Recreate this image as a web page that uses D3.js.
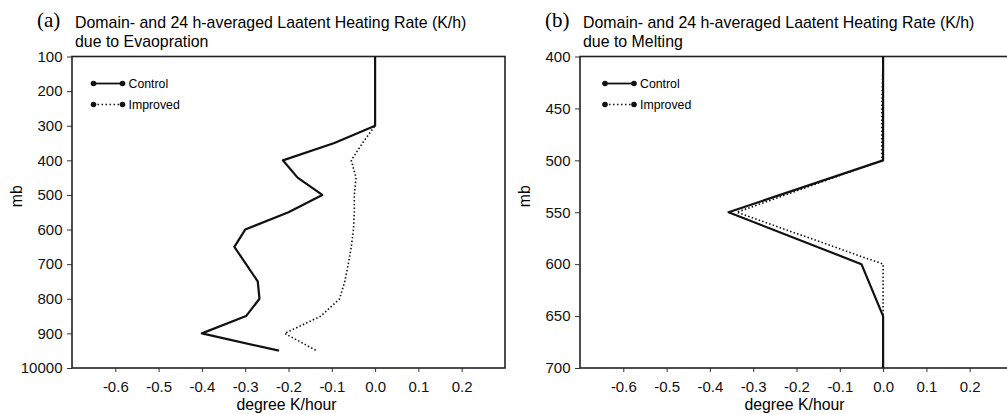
<!DOCTYPE html>
<html>
<head>
<meta charset="utf-8">
<script src="https://cdn.jsdelivr.net/npm/d3@7"></script>
<style>
  body { margin: 0; background: #fff; }
  svg { display: block; }
</style>
</head>
<body>
<svg width="1007" height="414"></svg>
<script>
// panel (a): evaporation
let levelsA = [100, 150, 200, 250, 300, 350, 400, 450, 500, 550, 600, 650, 700, 750, 800, 850, 900, 950];
let controlA = [0, 0, 0, 0, 0, -0.094, -0.213, -0.179, -0.122, -0.20, -0.30, -0.325, -0.298, -0.271, -0.267, -0.298, -0.40, -0.222];
let improvedA = [0, 0, 0, 0, 0, -0.029, -0.055, -0.044, -0.048, -0.048, -0.050, -0.055, -0.062, -0.070, -0.082, -0.125, -0.209, -0.135];
let yTicksA = [100, 200, 300, 400, 500, 600, 700, 800, 900, 1000];
let yLabelsA = ["100", "200", "300", "400", "500", "600", "700", "800", "900", "10000"];

// panel (b): melting
let levelsB = [400, 450, 500, 550, 600, 650, 700];
let controlB = [0, 0, 0, -0.357, -0.05, 0, 0];
let improvedB = [0, -0.003, -0.003, -0.338, 0, 0, 0];
let yTicksB = [400, 450, 500, 550, 600, 650, 700];

let xTicks = [-0.6, -0.5, -0.4, -0.3, -0.2, -0.1, 0.0, 0.1, 0.2];
let seriesNames = ["Control", "Improved"];

let font = "Liberation Sans, Arial, sans-serif";

class Panel {
	constructor(x, y, width, height, letter, title2){
		this.svg = d3.select("svg").append("g")
			.attr("transform", "translate(" + x + "," + y + ")");
		this.width = width;
		this.height = height;
		this.letter = letter;
		this.title2 = title2;
		this.x = d3.scaleLinear().domain([-0.7, 0.3]).range([0, width]);
	}

	setY(domain, ticks, labels){
		this.y = d3.scaleLinear().domain(domain).range([0, this.height]);
		this.yTicks = ticks;
		this.yLabels = labels;
	}

	draw(levels, control, improved, legendX){
		let g = this.svg, x = this.x, y = this.y, labels = this.yLabels, ticks = this.yTicks;

		// titles
		g.append("text").attr("x", -35).attr("y", -30)
			.attr("font-family", "Liberation Serif, serif").attr("font-size", 21)
			.text("(" + this.letter + ")");
		g.append("text").attr("x", 3).attr("y", -29)
			.attr("font-family", font).attr("font-size", 15.9)
			.text("Domain- and 24 h-averaged Laatent Heating Rate (K/h)");
		g.append("text").attr("x", 3).attr("y", -10)
			.attr("font-family", font).attr("font-size", 15.9)
			.text(this.title2);

		let xAxis = g.append("g").attr("transform", "translate(0," + this.height + ")")
			.call(d3.axisBottom(x).tickValues(xTicks)
				.tickFormat(function(d){ return d.toFixed(1); })
				.tickSize(4).tickSizeOuter(0));
		let yAxis = g.append("g")
			.call(d3.axisLeft(y).tickValues(ticks)
				.tickFormat(function(d, i){ return labels ? labels[i] : d; })
				.tickSize(5).tickSizeOuter(0));
		[xAxis, yAxis].forEach(function(a){
			a.select(".domain").remove();
			a.selectAll("line").attr("stroke", "#333").attr("stroke-width", 1);
			a.selectAll("text").attr("font-family", font)
				.attr("font-size", 15).attr("fill", "#111");
		});
		xAxis.selectAll("text").attr("dy", "1.15em");
		yAxis.selectAll("text").attr("dx", "-0.1em");

		g.append("rect").attr("width", this.width).attr("height", this.height)
			.attr("fill", "none").attr("stroke", "#222").attr("stroke-width", 1.6);

		g.append("text").attr("x", this.width / 2 - 2).attr("y", this.height + 42)
			.attr("text-anchor", "middle")
			.attr("font-family", font).attr("font-size", 15.8)
			.text("degree K/hour");
		g.append("text").attr("transform", "translate(" + (-50) + "," + (this.height / 2 - 16) + ") rotate(-90)")
			.attr("text-anchor", "middle")
			.attr("font-family", font).attr("font-size", 15.8)
			.text("mb");

		let line = d3.line().x(function(d){ return x(d[1]); }).y(function(d){ return y(d[0]); });

		g.append("path").datum(d3.zip(levels, improved))
			.attr("d", line).attr("fill", "none").attr("stroke", "#111")
			.attr("stroke-width", 1.6).attr("stroke-dasharray", "1.5,2.2");
		g.append("path").datum(d3.zip(levels, control))
			.attr("d", line).attr("fill", "none").attr("stroke", "#111")
			.attr("stroke-width", 2.2).attr("stroke-linejoin", "round");

		// legend
		let leg = g.selectAll(".leg").data(seriesNames).enter().append("g")
			.attr("class", "leg")
			.attr("transform", function(d, i){ return "translate(" + legendX + "," + (27 + i * 21) + ")"; });
		leg.append("line").attr("x1", 0).attr("x2", 29)
			.attr("stroke", "#111")
			.attr("stroke-width", function(d, i){ return i === 0 ? 1.8 : 1.6; })
			.attr("stroke-dasharray", function(d, i){ return i === 0 ? null : "1.5,2.5"; });
		leg.selectAll("circle").data([0, 29]).enter().append("circle")
			.attr("cx", function(d){ return d; }).attr("r", 2.8).attr("fill", "#111");
		leg.append("text").attr("x", 35).attr("dy", "0.35em")
			.attr("font-family", font).attr("font-size", 12.3)
			.text(function(d){ return d; });
	}
}

let panelA = new Panel(72, 56.5, 433, 311.5, "a", "due to Evaopration");
panelA.setY([100, 1000], yTicksA, yLabelsA);
panelA.draw(levelsA, controlA, improvedA, 21.5);

let panelB = new Panel(580, 56.5, 433, 311.5, "b", "due to Melting");
panelB.setY([400, 700], yTicksB, null);
panelB.draw(levelsB, controlB, improvedB, 25);
</script>
</body>
</html>
